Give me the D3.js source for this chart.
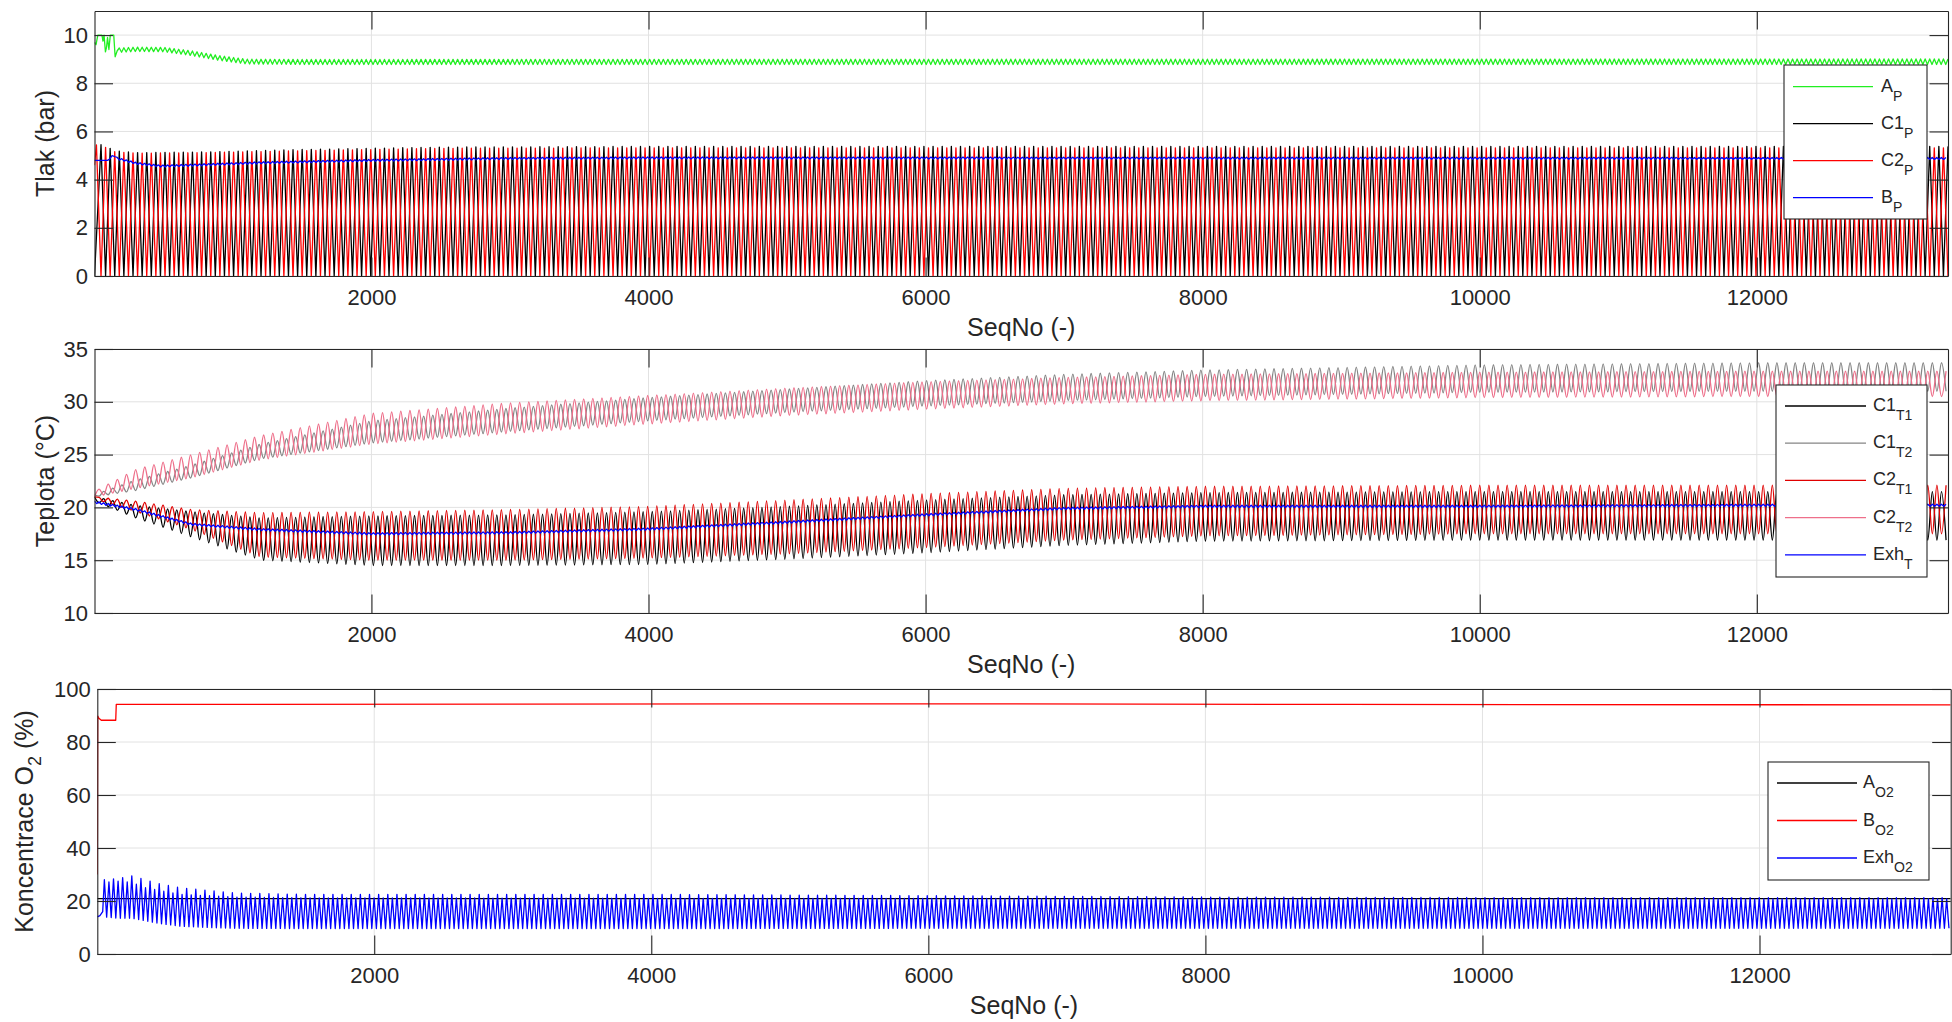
<!DOCTYPE html>
<html>
<head>
<meta charset="utf-8">
<script src="https://cdn.jsdelivr.net/npm/d3@7"></script>
<style>
  body { margin: 0; background: #fff; }
  svg { display: block; }
  text { font-family: "Liberation Sans", Arial, Helvetica, sans-serif; fill: #262626; }
</style>
</head>
<body>
<svg id="chart" width="1952" height="1022"></svg>
<script>
// ---------- values ----------
var seqRange = [1, 13380];
var xTicks = [2000, 4000, 6000, 8000, 10000, 12000];
var cyclePeriod = 66;      // samples per C1/C2 cycle
var ripplePeriod = 33;     // supply / exhaust ripple (twice per cycle)

// panel 1 : Tlak (bar)
var pTicks = [0, 2, 4, 6, 8, 10];
var apStartX = [1, 12, 25, 55, 62, 70, 80, 88, 95, 105, 115, 140, 150, 165];
var apStartY = [9.7, 9.6, 10.0, 10.0, 9.75, 10.0, 9.3, 9.5, 9.9, 9.4, 10.0, 10.0, 9.1, 9.35];
var apKnotX = [165, 300, 500, 700, 900, 1100, 1500, 13380];
var apHi = [9.46, 9.5, 9.49, 9.35, 9.15, 9.0, 8.99, 9.01];
var apLo = [9.28, 9.32, 9.31, 9.15, 8.95, 8.8, 8.78, 8.78];

var cpKnotX = [1, 60, 150, 300, 800, 1500, 2500, 4000, 13380];
var c1pPeak = [5.45, 5.45, 5.2, 5.12, 5.15, 5.25, 5.35, 5.38, 5.38];
var c2pPeak = [5.45, 5.4, 5.15, 5.1, 5.12, 5.2, 5.3, 5.32, 5.32];
var cpTrough = [0, 0, 0, 0, 0, 0, 0, 0, 0];

var bpStartX = [1, 95, 110, 128, 150];
var bpStartY = [4.8, 4.8, 4.85, 5.0, 4.95];
var bpKnotX = [165, 300, 480, 800, 1200, 2000, 3000, 4000, 13380];
var bpHi = [4.92, 4.72, 4.60, 4.66, 4.74, 4.84, 4.92, 4.94, 4.92];
var bpLo = [4.84, 4.64, 4.52, 4.58, 4.66, 4.76, 4.84, 4.86, 4.84];

// panel 2 : Teplota (°C)
var tTicks = [10, 15, 20, 25, 30, 35];
var tKnotX = [1, 300, 700, 1200, 2000, 3000, 4000, 5000, 6000, 7000, 8000, 10000, 12000, 13380];
var c1t1Hi = [21.0, 20.2, 19.6, 19.0, 19.2, 19.3, 19.6, 20.1, 20.7, 21.2, 21.4, 21.5, 21.5, 21.5];
var c1t1Lo = [20.6, 19.0, 17.2, 15.0, 14.5, 14.5, 14.6, 15.1, 15.7, 16.4, 16.8, 16.9, 16.9, 16.9];
var c1t2Hi = [21.2, 22.6, 24.0, 26.0, 28.2, 29.4, 30.4, 31.2, 32.0, 32.6, 33.0, 33.5, 33.7, 33.7];
var c1t2Lo = [21.0, 21.6, 22.8, 24.6, 26.1, 27.2, 28.2, 29.0, 29.6, 30.1, 30.5, 30.9, 31.0, 31.0];
var c2t1Hi = [21.0, 20.6, 19.8, 19.5, 19.6, 19.8, 20.1, 20.7, 21.3, 21.8, 22.0, 22.1, 22.1, 22.1];
var c2t1Lo = [20.8, 19.6, 17.9, 15.3, 15.0, 15.0, 15.2, 15.6, 16.2, 16.9, 17.3, 17.5, 17.5, 17.5];
var c2t2Hi = [21.5, 23.6, 25.0, 26.8, 28.9, 29.9, 30.6, 31.3, 31.9, 32.3, 32.6, 32.8, 32.9, 32.9];
var c2t2Lo = [21.0, 21.8, 22.8, 24.5, 26.0, 27.0, 27.9, 28.7, 29.3, 29.8, 30.1, 30.4, 30.5, 30.5];
var exhTHi = [20.6, 19.9, 18.5, 18.0, 17.6, 17.7, 18.05, 18.7, 19.4, 20.0, 20.2, 20.2, 20.3, 20.3];
var exhTLo = [20.4, 19.7, 18.3, 17.8, 17.4, 17.5, 17.85, 18.5, 19.2, 19.8, 20.0, 20.0, 20.1, 20.1];

// panel 3 : Koncentrace O2 (%)
var oTicks = [0, 20, 40, 60, 80, 100];
var ao2X = [1, 13380];
var ao2Y = [20.9, 20.9];
var bo2X = [1, 4, 12, 30, 134, 138, 3000, 6000, 9000, 13380];
var bo2Y = [30, 89.8, 89.0, 88.2, 88.2, 94.2, 94.3, 94.4, 94.2, 94.0];
var exhO2StartX = [1, 20, 40];
var exhO2StartY = [14, 14.5, 16];
var exhO2KnotX = [50, 150, 250, 350, 450, 600, 800, 1000, 1500, 2000, 4000, 6000, 8000, 10000, 13380];
var exhO2HiA = [28, 28.5, 29.5, 28, 26.5, 25, 24, 23, 22.5, 22.5, 22.5, 22, 21.5, 21.3, 21.3];
var exhO2HiB = [27, 27.5, 27, 25, 24, 22.5, 22, 21.5, 21.2, 21.2, 21, 21, 20.8, 20.8, 20.8];
var exhO2Lo = [14, 13.5, 13.5, 12.5, 11.5, 10.5, 10, 9.7, 9.6, 9.6, 9.6, 9.7, 9.7, 9.7, 9.7];

// ---------- helpers ----------
function env(kx, ky) {
  return d3.scaleLinear().domain(kx).range(ky).clamp(true);
}
function zip(xs, ys) {
  return xs.map(function(v, i) { return [v, ys[i]]; });
}
// peaks every `step` samples from x0, troughs half way between
function ripple(x0, x1, step, hi, lo) {
  var pts = [];
  for (var t = x0; t <= x1; t += step) {
    pts.push([t, hi(t)]);
    if (t + step / 2 <= x1) pts.push([t + step / 2, lo(t + step / 2)]);
  }
  return pts;
}
// same, but peaks alternate between two heights
function ripple2(x0, x1, step, hiA, hiB, lo) {
  var pts = [], k = 0;
  for (var t = x0; t <= x1; t += step, k++) {
    pts.push([t, (k % 2 ? hiB : hiA)(t)]);
    if (t + step / 2 <= x1) pts.push([t + step / 2, lo(t + step / 2)]);
  }
  return pts;
}

var end = seqRange[1];

var apPts = zip(apStartX, apStartY).concat(ripple(180, end, ripplePeriod, env(apKnotX, apHi), env(apKnotX, apLo)));
var c1pPts = [[1, 0]].concat(ripple(48, end, cyclePeriod, env(cpKnotX, c1pPeak), env(cpKnotX, cpTrough)));
var c2pPts = [[1, 4.6]].concat(ripple(15, end, cyclePeriod, env(cpKnotX, c2pPeak), env(cpKnotX, cpTrough)));
var bpPts = zip(bpStartX, bpStartY).concat(ripple(165, end, ripplePeriod, env(bpKnotX, bpHi), env(bpKnotX, bpLo)));

var c1t1Pts = ripple(1, end, cyclePeriod, env(tKnotX, c1t1Hi), env(tKnotX, c1t1Lo));
var c1t2Pts = ripple(1, end, cyclePeriod, env(tKnotX, c1t2Hi), env(tKnotX, c1t2Lo));
var c2t1Pts = [[1, 21]].concat(ripple(34, end, cyclePeriod, env(tKnotX, c2t1Hi), env(tKnotX, c2t1Lo)));
var c2t2Pts = [[1, 21]].concat(ripple(34, end, cyclePeriod, env(tKnotX, c2t2Hi), env(tKnotX, c2t2Lo)));
var exhTPts = ripple(1, end, ripplePeriod, env(tKnotX, exhTHi), env(tKnotX, exhTLo));

var ao2Pts = zip(ao2X, ao2Y);
var bo2Pts = zip(bo2X, bo2Y);
var exhO2Pts = zip(exhO2StartX, exhO2StartY).concat(
  ripple2(52, end, ripplePeriod, env(exhO2KnotX, exhO2HiA), env(exhO2KnotX, exhO2HiB), env(exhO2KnotX, exhO2Lo)));

// ---------- layout ----------
var ink = "#262626";
var panels = [
  {
    box: {left: 94.5, right: 1948, top: 11, bottom: 276},
    yDomain: [0, 11], yTicks: pTicks,
    ylabel: [["Tlak (bar)", 0]], ylabelX: 54,
    series: [
      {pts: apPts, color: "#22ee22", name: ["A", "P"]},
      {pts: c1pPts, color: "#000000", name: ["C1", "P"]},
      {pts: c2pPts, color: "#ff0000", name: ["C2", "P"]},
      {pts: bpPts, color: "#0000ff", name: ["B", "P"]}
    ],
    legend: {x: 1784, y: 65, w: 143, h: 154, row0: 21.7, dy: 37, lx1: 9, lx2: 89, tx: 97}
  },
  {
    box: {left: 94.5, right: 1948, top: 349, bottom: 613},
    yDomain: [10, 35], yTicks: tTicks,
    ylabel: [["Teplota (°C)", 0]], ylabelX: 54,
    series: [
      {pts: c1t1Pts, color: "#000000", name: ["C1", "T1"], curve: d3.curveMonotoneX},
      {pts: c1t2Pts, color: "#858585", name: ["C1", "T2"], curve: d3.curveMonotoneX},
      {pts: c2t1Pts, color: "#e00000", name: ["C2", "T1"], curve: d3.curveMonotoneX},
      {pts: c2t2Pts, color: "#ee6f8a", name: ["C2", "T2"], curve: d3.curveMonotoneX},
      {pts: exhTPts, color: "#0000ff", name: ["Exh", "T"]}
    ],
    legend: {x: 1776, y: 385, w: 151, h: 192, row0: 21, dy: 37.2, lx1: 9, lx2: 90, tx: 97}
  },
  {
    box: {left: 97.3, right: 1950.7, top: 689, bottom: 954},
    yDomain: [0, 100], yTicks: oTicks,
    ylabel: [["Koncentrace O", 0], ["2", 1], [" (%)", -1]], ylabelX: 33,
    series: [
      {pts: ao2Pts, color: "#000000", name: ["A", "O2"]},
      {pts: bo2Pts, color: "#ff0000", name: ["B", "O2"]},
      {pts: exhO2Pts, color: "#0000ff", name: ["Exh", "O2"]}
    ],
    legend: {x: 1768, y: 762, w: 161, h: 118, row0: 21, dy: 37.5, lx1: 9, lx2: 89, tx: 95}
  }
];

var svg = d3.select("#chart");
var tickLen = 18.5;

panels.forEach(function(p, i) {
  var b = p.box;
  var x = d3.scaleLinear().domain(seqRange).range([b.left, b.right]);
  var y = d3.scaleLinear().domain(p.yDomain).range([b.bottom, b.top]);
  var g = svg.append("g");

  // grid
  g.append("g").selectAll("line").data(xTicks).join("line")
    .attr("x1", function(d) { return x(d); }).attr("x2", function(d) { return x(d); })
    .attr("y1", b.top).attr("y2", b.bottom)
    .attr("stroke", "#e2e2e2").attr("stroke-width", 1);
  g.append("g").selectAll("line").data(p.yTicks).join("line")
    .attr("y1", function(d) { return y(d); }).attr("y2", function(d) { return y(d); })
    .attr("x1", b.left).attr("x2", b.right)
    .attr("stroke", "#e2e2e2").attr("stroke-width", 1);

  // data
  var clipId = "clip" + i;
  svg.append("clipPath").attr("id", clipId).append("rect")
    .attr("x", b.left).attr("y", b.top).attr("width", b.right - b.left).attr("height", b.bottom - b.top);
  var lines = g.append("g").attr("clip-path", "url(#" + clipId + ")");
  p.series.forEach(function(s) {
    var line = d3.line()
      .x(function(d) { return x(d[0]); })
      .y(function(d) { return y(d[1]); })
      .curve(s.curve || d3.curveLinear);
    lines.append("path").datum(s.pts)
      .attr("fill", "none").attr("stroke", s.color)
      .attr("stroke-width", 1.3).attr("stroke-linejoin", "round")
      .attr("d", line);
  });

  // axes (ticks inside, box on)
  var axes = g.append("g");
  axes.append("g").attr("transform", "translate(0," + b.bottom + ")")
    .call(d3.axisBottom(x).tickValues(xTicks).tickFormat(d3.format("d"))
      .tickSizeInner(-tickLen).tickSizeOuter(0).tickPadding(13));
  axes.append("g").attr("transform", "translate(0," + b.top + ")")
    .call(d3.axisTop(x).tickValues(xTicks).tickSizeInner(-tickLen).tickSizeOuter(0).tickFormat(""));
  axes.append("g").attr("transform", "translate(" + b.left + ",0)")
    .call(d3.axisLeft(y).tickValues(p.yTicks).tickFormat(d3.format("d"))
      .tickSizeInner(-tickLen).tickSizeOuter(0).tickPadding(6.5));
  axes.append("g").attr("transform", "translate(" + b.right + ",0)")
    .call(d3.axisRight(y).tickValues(p.yTicks).tickSizeInner(-tickLen).tickSizeOuter(0).tickFormat(""));
  axes.selectAll("g").attr("font-family", null).attr("font-size", null);
  axes.selectAll("path.domain, .tick line").attr("stroke", ink).attr("stroke-width", 1.1);
  axes.selectAll(".tick text").attr("font-size", 22).attr("fill", ink);

  // axis titles
  g.append("text")
    .attr("x", (b.left + b.right) / 2).attr("y", b.bottom + 60)
    .attr("text-anchor", "middle").attr("font-size", 25)
    .text("SeqNo (-)");
  var yl = g.append("text")
    .attr("transform", "translate(" + p.ylabelX + "," + (b.top + b.bottom) / 2 + ") rotate(-90)")
    .attr("text-anchor", "middle").attr("font-size", 25);
  p.ylabel.forEach(function(part) {
    var ts = yl.append("tspan").text(part[0]);
    if (part[1] === 1) ts.attr("font-size", 18).attr("dy", 8);
    if (part[1] === -1) ts.attr("dy", -8);
  });

  // legend
  var L = p.legend;
  var lg = g.append("g").attr("transform", "translate(" + L.x + "," + L.y + ")");
  lg.append("rect").attr("width", L.w).attr("height", L.h)
    .attr("fill", "#fff").attr("stroke", ink).attr("stroke-width", 1.1);
  p.series.forEach(function(s, k) {
    var ry = L.row0 + k * L.dy;
    lg.append("line").attr("x1", L.lx1).attr("x2", L.lx2).attr("y1", ry).attr("y2", ry)
      .attr("stroke", s.color).attr("stroke-width", 1.3);
    var t = lg.append("text").attr("x", L.tx).attr("y", ry + 5).attr("font-size", 18);
    t.append("tspan").text(s.name[0]);
    t.append("tspan").attr("font-size", 14).attr("dy", 9).text(s.name[1]);
  });
});
</script>
</body>
</html>
